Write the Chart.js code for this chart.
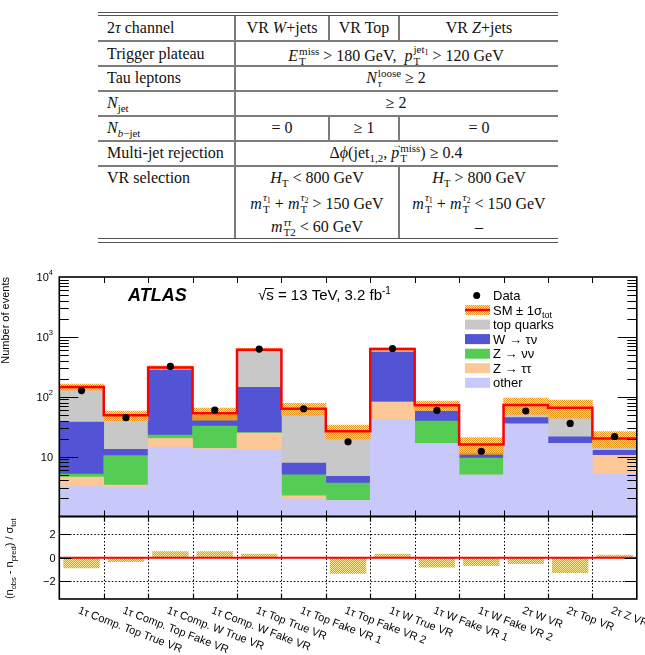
<!DOCTYPE html>
<html lang="en">
<head>
<meta charset="UTF-8">
<title>2tau validation regions</title>
<script src="https://cdn.jsdelivr.net/npm/chart.js"></script>
<style>
    body { margin: 0; width: 645px; height: 655px; background: #fff; position: relative; overflow: hidden; }
    .ln { position: absolute; background: #7c7c7c; }
    .c { position: absolute; font-family: "Liberation Serif", "Times New Roman", serif; font-size: 16px; line-height: 20px; color: #111; white-space: nowrap; }
    .m { transform: translateX(-50%); }
    .ss { display: inline-block; font-size: 11px; line-height: 10px; vertical-align: -4px; text-align: left; margin-left: 1px; }
    .ss > span { display: block; }
    .sb { font-size: 11px; position: relative; top: 4px; }
    .s2 { font-size: 8px; position: relative; top: 2px; }
    .vec { position: relative; }
    .vec::after { content: "\2192"; position: absolute; left: 1px; top: -9px; font-size: 10px; font-style: normal; }
    canvas { position: absolute; left: 0; }
</style>
</head>
<body>
    <!-- selection table -->
    <div class="ln" style="left:98px;top:12px;width:460px;height:1px;background:#555"></div>
    <div class="ln" style="left:98px;top:15px;width:460px;height:1px;background:#555"></div>
    <div class="ln" style="left:98px;top:40px;width:460px;height:2px"></div>
    <div class="ln" style="left:98px;top:65px;width:460px;height:2px"></div>
    <div class="ln" style="left:98px;top:90px;width:460px;height:2px"></div>
    <div class="ln" style="left:98px;top:115px;width:460px;height:2px"></div>
    <div class="ln" style="left:98px;top:140px;width:460px;height:2px"></div>
    <div class="ln" style="left:98px;top:165px;width:460px;height:2px"></div>
    <div class="ln" style="left:98px;top:238px;width:460px;height:1px;background:#555"></div>
    <div class="ln" style="left:98px;top:242px;width:460px;height:1px;background:#555"></div>
    <div class="ln" style="left:234px;top:16px;width:2px;height:222px"></div>
    <div class="ln" style="left:328px;top:16px;width:2px;height:24px"></div>
    <div class="ln" style="left:398px;top:16px;width:2px;height:24px"></div>
    <div class="ln" style="left:328px;top:117px;width:2px;height:23px"></div>
    <div class="ln" style="left:398px;top:117px;width:2px;height:23px"></div>
    <div class="ln" style="left:398px;top:167px;width:2px;height:71px"></div>

    <div class="c" style="left:107px;top:18px">2<i>τ</i> channel</div>
    <div class="c m" style="left:282px;top:18px">VR <i>W</i>+jets</div>
    <div class="c m" style="left:364px;top:18px">VR Top</div>
    <div class="c m" style="left:479px;top:18px">VR <i>Z</i>+jets</div>

    <div class="c" style="left:107px;top:43.5px">Trigger plateau</div>
    <div class="c m" style="left:396px;top:43.5px"><i>E</i><span class="ss"><span>miss</span><span>T</span></span> &gt; 180 GeV,&nbsp; <i>p</i><span class="ss"><span>jet<span class="s2">1</span></span><span>T</span></span> &gt; 120 GeV</div>

    <div class="c" style="left:107px;top:68.3px">Tau leptons</div>
    <div class="c m" style="left:396px;top:68.3px"><i>N</i><span class="ss"><span>loose</span><span><i>τ</i></span></span> ≥ 2</div>

    <div class="c" style="left:107px;top:93.3px"><i>N</i><span class="sb">jet</span></div>
    <div class="c m" style="left:396px;top:93.3px">≥ 2</div>

    <div class="c" style="left:107px;top:118.3px"><i>N</i><span class="sb"><i>b</i>−jet</span></div>
    <div class="c m" style="left:282px;top:118.3px">= 0</div>
    <div class="c m" style="left:364px;top:118.3px">≥ 1</div>
    <div class="c m" style="left:479px;top:118.3px">= 0</div>

    <div class="c" style="left:107px;top:143.3px">Multi-jet rejection</div>
    <div class="c m" style="left:396px;top:143.3px">Δ<i>ϕ</i>(jet<span class="sb">1,2</span>, <span class="vec"><i>p</i></span><span class="ss"><span>miss</span><span>T</span></span>) ≥ 0.4</div>

    <div class="c" style="left:107px;top:168px">VR selection</div>
    <div class="c m" style="left:317px;top:168px"><i>H</i><span class="sb">T</span> &lt; 800 GeV</div>
    <div class="c m" style="left:317px;top:192px"><i>m</i><span class="ss"><span><i>τ</i><span class="s2">1</span></span><span>T</span></span> + <i>m</i><span class="ss"><span><i>τ</i><span class="s2">2</span></span><span>T</span></span> &gt; 150 GeV</div>
    <div class="c m" style="left:317px;top:217px"><i>m</i><span class="ss"><span><i>ττ</i></span><span>T2</span></span> &lt; 60 GeV</div>
    <div class="c m" style="left:479px;top:168px"><i>H</i><span class="sb">T</span> &gt; 800 GeV</div>
    <div class="c m" style="left:479px;top:192px"><i>m</i><span class="ss"><span><i>τ</i><span class="s2">1</span></span><span>T</span></span> + <i>m</i><span class="ss"><span><i>τ</i><span class="s2">2</span></span><span>T</span></span> &lt; 150 GeV</div>
    <div class="c m" style="left:479px;top:217px">–</div>

    <canvas id="main" width="645" height="272" style="top:250px"></canvas>
    <canvas id="ratio" width="645" height="150" style="top:505px"></canvas>

    <script>
        // Validation region bins
        var binLabels = ['1τ Comp. Top True VR', '1τ Comp. Top Fake VR', '1τ Comp. W True VR', '1τ Comp. W Fake VR',
            '1τ Top True VR', '1τ Top Fake VR 1', '1τ Top Fake VR 2', '1τ W True VR', '1τ W Fake VR 1',
            '1τ W Fake VR 2', '2τ W VR', '2τ Top VR', '2τ Z VR'];

        // Background yields per bin (events), bottom of stack first
        var other = [3.17, 3.1, 14.4, 13.4, 12.8, 1.95, 1.84, 40.7, 16.5, 4.9, 34.5, 16.5, 5.2];
        var zTauTau = [1.38, 0.25, 5.7, 0.3, 12.0, 0.26, 0, 41.1, 0, 0, 0, 0, 5.3];
        var zNuNu = [0.55, 7.05, 2.7, 18.6, 0.3, 2.77, 1.77, 0, 22.7, 4.6, 1.4, 0, 0];
        var wTauNu = [32.7, 2.9, 256, 16.6, 118, 2.85, 1.06, 478, 18.6, 2.0, 8.8, 4.9, 2.3];
        var topQuarks = [108, 35.6, 30, 3.9, 469, 55.5, 21.9, 69, 14.2, 4.4, 28.1, 44.4, 7.3];

        // Observed data, total SM uncertainty, and pull (n_obs - n_pred) / sigma_tot
        var dataObs = [127, 44.7, 321, 60, 625, 63, 17.7, 640, 59.3, 12.3, 57.8, 35.9, 21.7];
        var smSigma = [17, 9, 20, 12, 30, 14, 7, 30, 13, 5, 22, 22, 6];
        var pulls = [-0.9, -0.37, 0.55, 0.55, 0.35, 0, -1.35, 0.35, -0.83, -0.71, -0.54, -1.3, 0.26];

        var yTicksMain = [10, 100, 1000, 10000];
        var yTicksRatio = [2, 0, -2];

        var FONT = '"Liberation Sans", Arial, Helvetica, sans-serif';
        Chart.defaults.font.family = FONT;

        var procs = [
            { label: 'other', vals: other, color: '#c8c8fa' },
            { label: 'Z → ττ', vals: zTauTau, color: '#fec896' },
            { label: 'Z → νν', vals: zNuNu, color: '#55cd55' },
            { label: 'W → τν', vals: wTauNu, color: '#5353d5' },
            { label: 'top quarks', vals: topQuarks, color: '#c8c8c8' }
        ];

        function hatch() {
            var c = document.createElement('canvas');
            c.width = 2; c.height = 2;
            var g = c.getContext('2d');
            g.fillStyle = 'rgba(252,222,90,0.6)';
            g.fillRect(0, 0, 2, 2);
            g.fillStyle = 'rgba(228,145,25,0.95)';
            g.fillRect(0, 0, 1, 1);
            g.fillRect(1, 1, 1, 1);
            return g.createPattern(c, 'repeat');
        }
        var hatchFill = hatch();

        // draw text pieces with super/subscripts; parts = [text, size, shift, style]
        function rich(ctx, parts, x, y, align) {
            ctx.textAlign = 'left';
            var w = 0;
            parts.forEach(function (p) { ctx.font = (p[3] || '') + ' ' + p[1] + 'px ' + FONT; w += ctx.measureText(p[0]).width; });
            var cx = align === 'right' ? x - w : (align === 'center' ? x - w / 2 : x);
            parts.forEach(function (p) {
                ctx.font = (p[3] || '') + ' ' + p[1] + 'px ' + FONT;
                ctx.fillText(p[0], cx, y + (p[2] || 0));
                cx += ctx.measureText(p[0]).width;
            });
        }

        // cumulative stack
        var cum = binLabels.map(function () { return 1; });
        var total = binLabels.map(function () { return 0; });
        var stackSets = procs.map(function (p) {
            var d = p.vals.map(function (v, i) {
                var lo = cum[i];
                total[i] += v;
                cum[i] = Math.max(total[i], 1);
                return [lo, cum[i]];
            });
            return { type: 'bar', label: p.label, data: d, backgroundColor: p.color, borderWidth: 0,
                grouped: false, barPercentage: 1, categoryPercentage: 1, order: 10 };
        });
        var bandData = total.map(function (t, i) { return [t - smSigma[i], t + smSigma[i]]; });
        var stepData = total.map(function (t, i) { return { x: i, y: t }; });
        stepData.push({ x: total.length, y: total[total.length - 1] });

        var MAIN_TOP = 250, RATIO_TOP = 505;

        var mainDeco = {
            id: 'mainDeco',
            afterDraw: function (chart) {
                var ctx = chart.ctx, a = chart.chartArea, y = chart.scales.y, xe = chart.scales.xe;
                ctx.save();
                ctx.strokeStyle = '#000';
                ctx.fillStyle = '#000';
                ctx.lineWidth = 1;
                ctx.beginPath();
                for (var k = 0; k < 4; k++) {
                    for (var m = 1; m <= 9; m++) {
                        var v = m * Math.pow(10, k);
                        if (v <= 1 || v >= 10000) continue;
                        var py = Math.round(y.getPixelForValue(v)) + 0.5;
                        var len = m === 1 ? 19 : 9.5;
                        ctx.moveTo(a.left, py); ctx.lineTo(a.left + len, py);
                        ctx.moveTo(a.right, py); ctx.lineTo(a.right - len, py);
                    }
                }
                for (var i = 1; i < binLabels.length; i++) {
                    var px = Math.round(xe.getPixelForValue(i)) + 0.5;
                    ctx.moveTo(px, a.bottom); ctx.lineTo(px, a.bottom - 6);
                    ctx.moveTo(px, a.top); ctx.lineTo(px, a.top + 6);
                }
                ctx.stroke();
                ctx.lineWidth = 1.6;
                ctx.strokeRect(a.left, a.top, a.right - a.left, a.bottom - a.top);

                // y tick labels
                ctx.textBaseline = 'alphabetic';
                yTicksMain.forEach(function (v) {
                    var e = Math.round(Math.log10(v));
                    var py = y.getPixelForValue(v) + 4;
                    if (e === 1) rich(ctx, [['10', 11]], 53, py, 'right');
                    else rich(ctx, [['10', 11], [String(e), 7.5, -6]], 53, py, 'right');
                });

                // y title
                ctx.save();
                ctx.translate(9, a.top);
                ctx.rotate(-Math.PI / 2);
                ctx.font = '11px ' + FONT;
                ctx.textAlign = 'right';
                ctx.fillText('Number of events', 0, 0);
                ctx.restore();

                // ATLAS label
                ctx.font = 'italic bold 18px ' + FONT;
                ctx.textAlign = 'left';
                ctx.fillText('ATLAS', 128, 301 - MAIN_TOP);
                ctx.font = '15px ' + FONT;
                var wr = ctx.measureText('√').width, ws = ctx.measureText('s').width;
                rich(ctx, [['√s = 13 TeV, 3.2 fb', 15], ['-1', 10, -6]], 258, 300 - MAIN_TOP, 'left');
                ctx.lineWidth = 1;
                ctx.beginPath();
                ctx.moveTo(258 + wr - 1, 300 - MAIN_TOP - 11.5);
                ctx.lineTo(258 + wr + ws, 300 - MAIN_TOP - 11.5);
                ctx.stroke();

                // legend
                var lx = 465, tx = 493, rows = [295.5, 310, 324.6, 339.1, 353.7, 368.2, 382.8].map(function (r) { return r - MAIN_TOP; });
                ctx.beginPath();
                ctx.arc(476.7, rows[0], 3.5, 0, 2 * Math.PI);
                ctx.fill();
                rich(ctx, [['Data', 13]], tx, rows[0] + 4.5, 'left');
                ctx.fillStyle = hatchFill;
                ctx.fillRect(lx, rows[1] - 5, 25, 10);
                ctx.strokeStyle = '#ff0000';
                ctx.lineWidth = 2.5;
                ctx.beginPath();
                ctx.moveTo(lx, rows[1]); ctx.lineTo(lx + 25, rows[1]);
                ctx.stroke();
                ctx.fillStyle = '#000';
                rich(ctx, [['SM ± 1σ', 13], ['tot', 9, 3]], tx, rows[1] + 4.5, 'left');
                procs.slice().reverse().forEach(function (p, j) {
                    var ry = rows[j + 2];
                    ctx.fillStyle = p.color;
                    ctx.fillRect(lx, ry - 5, 25, 10);
                    ctx.fillStyle = '#000';
                    rich(ctx, [[p.label, 13]], tx, ry + 4.5, 'left');
                });
                ctx.restore();
            }
        };

        new Chart(document.getElementById('main'), {
            data: {
                labels: binLabels,
                datasets: stackSets.concat([
                    { type: 'bar', label: 'SM unc', data: bandData, backgroundColor: hatchFill, borderWidth: 0,
                      grouped: false, barPercentage: 1, categoryPercentage: 1, order: 3 },
                    { type: 'line', label: 'SM', data: stepData, xAxisID: 'xe', stepped: 'before',
                      borderColor: '#ff0000', borderWidth: 2.5, pointRadius: 0, fill: false, order: 2 },
                    { type: 'line', label: 'Data', data: dataObs, showLine: false, pointRadius: 3.6,
                      pointBackgroundColor: '#000', pointBorderColor: '#000', pointBorderWidth: 0, order: 1 }
                ])
            },
            options: {
                responsive: false,
                animation: false,
                events: [],
                layout: { padding: { left: 59.3, right: 8.2, top: 27, bottom: 5.5 } },
                plugins: { legend: { display: false }, tooltip: { enabled: false } },
                scales: {
                    x: { type: 'category', offset: true, display: false },
                    xe: { type: 'linear', min: 0, max: binLabels.length, display: false },
                    y: { type: 'logarithmic', min: 1, max: 10000, display: false }
                }
            },
            plugins: [mainDeco]
        });

        var ratioDeco = {
            id: 'ratioDeco',
            beforeDatasetsDraw: function (chart) {
                var ctx = chart.ctx, a = chart.chartArea, y = chart.scales.y, xe = chart.scales.xe;
                ctx.save();
                ctx.strokeStyle = '#000';
                ctx.lineWidth = 1;
                ctx.setLineDash([1.5, 2]);
                ctx.beginPath();
                [2, -2].forEach(function (v) {
                    var py = Math.round(y.getPixelForValue(v)) + 0.5;
                    ctx.moveTo(a.left, py); ctx.lineTo(a.right, py);
                });
                for (var i = 1; i < binLabels.length; i++) {
                    var px = Math.round(xe.getPixelForValue(i)) + 0.5;
                    ctx.moveTo(px, a.top); ctx.lineTo(px, a.bottom);
                }
                ctx.stroke();
                ctx.restore();
            },
            afterDraw: function (chart) {
                var ctx = chart.ctx, a = chart.chartArea, y = chart.scales.y, xe = chart.scales.xe, x = chart.scales.x;
                ctx.save();
                ctx.strokeStyle = '#000';
                ctx.fillStyle = '#000';
                ctx.lineWidth = 1.2;
                ctx.beginPath();
                yTicksRatio.forEach(function (v) {
                    var py = Math.round(y.getPixelForValue(v)) + 0.5;
                    ctx.moveTo(a.left, py); ctx.lineTo(a.left + 12, py);
                    ctx.moveTo(a.right, py); ctx.lineTo(a.right - 12, py);
                });
                for (var i = 1; i < binLabels.length; i++) {
                    var px = Math.round(xe.getPixelForValue(i)) + 0.5;
                    ctx.moveTo(px, a.bottom); ctx.lineTo(px, a.bottom - 5);
                    ctx.moveTo(px, a.top); ctx.lineTo(px, a.top + 5);
                }
                ctx.stroke();
                ctx.lineWidth = 1.6;
                ctx.strokeRect(a.left, a.top, a.right - a.left, a.bottom - a.top);

                ctx.textBaseline = 'alphabetic';
                yTicksRatio.forEach(function (v) {
                    rich(ctx, [[v < 0 ? '−' + (-v) : String(v), 11]], 55.5, y.getPixelForValue(v) + 4, 'right');
                });

                // y title
                ctx.save();
                ctx.translate(13, (a.top + a.bottom) / 2 + 1);
                ctx.rotate(-Math.PI / 2);
                rich(ctx, [['(n', 11], ['obs', 7.5, 3], [' - n', 11], ['pred', 7.5, 3], [') / σ', 11], ['tot', 7.5, 3]], 0, 0, 'center');
                ctx.restore();

                // bin labels
                ctx.font = '11px ' + FONT;
                ctx.textAlign = 'left';
                ctx.textBaseline = 'top';
                binLabels.forEach(function (lab, i) {
                    ctx.save();
                    ctx.translate(x.getPixelForValue(i) - 1, 605 - RATIO_TOP);
                    ctx.rotate(21 * Math.PI / 180);
                    ctx.fillText(lab, 0, 0);
                    ctx.restore();
                });
                ctx.restore();
            }
        };

        new Chart(document.getElementById('ratio'), {
            data: {
                labels: binLabels,
                datasets: [
                    { type: 'bar', label: 'pull', data: pulls.map(function (p) { return [0, p]; }),
                      backgroundColor: hatchFill, borderWidth: 0, grouped: false,
                      barPercentage: 0.82, categoryPercentage: 1, order: 3 },
                    { type: 'line', label: 'zero', data: [{ x: 0, y: 0 }, { x: binLabels.length, y: 0 }], xAxisID: 'xe',
                      borderColor: '#ff0000', borderWidth: 2, pointRadius: 0, fill: false, order: 1 }
                ]
            },
            options: {
                responsive: false,
                animation: false,
                events: [],
                layout: { padding: { left: 59.3, right: 8.2, top: 11.5, bottom: 56 } },
                plugins: { legend: { display: false }, tooltip: { enabled: false } },
                scales: {
                    x: { type: 'category', offset: true, display: false },
                    xe: { type: 'linear', min: 0, max: binLabels.length, display: false },
                    y: { type: 'linear', min: -3.5, max: 3.5, display: false }
                }
            },
            plugins: [ratioDeco]
        });
    </script>
</body>
</html>
